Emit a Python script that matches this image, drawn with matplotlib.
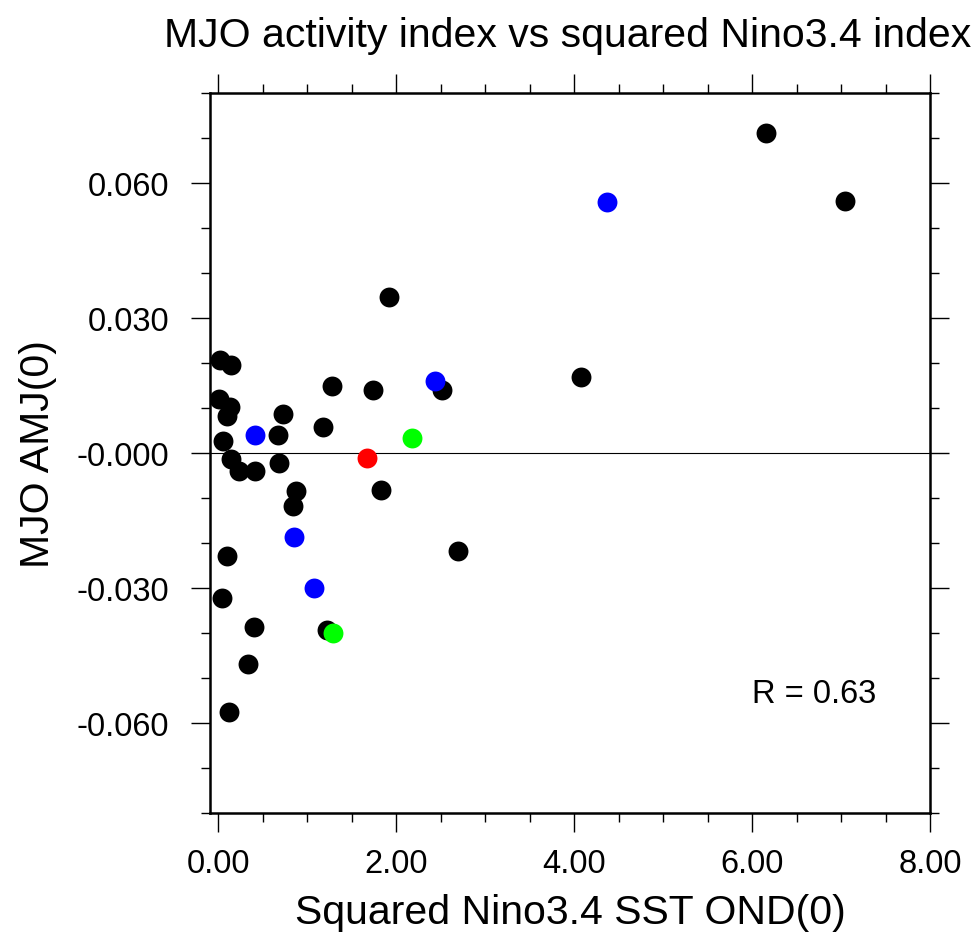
import numpy as np
import matplotlib
matplotlib.use("Agg")
import matplotlib.pyplot as plt
from matplotlib.ticker import MultipleLocator, FormatStrFormatter

plt.rcParams["font.family"] = ["Liberation Sans", "DejaVu Sans"]

# Dados: (quadrado Nino3.4 OND, índice MJO AMJ)
x_black = [0.02, 0.15, 0.015, 0.13, 0.10, 0.06, 0.67, 0.73, 1.28, 1.745, 2.52,
           1.18, 0.146, 0.24, 0.42, 0.68, 0.88, 0.84, 1.83, 2.70, 0.105, 0.05,
           0.40, 1.23, 0.34, 0.127, 6.16, 7.04, 1.92, 4.08]
y_black = [0.0206, 0.0196, 0.0120, 0.0102, 0.0082, 0.0027, 0.0040, 0.0087, 0.0148, 0.0141, 0.0140,
           0.0057, -0.0013, -0.0039, -0.0041, -0.0022, -0.0085, -0.0117, -0.0082, -0.0217, -0.0228, -0.0322,
           -0.0386, -0.0393, -0.0469, -0.0576, 0.0711, 0.0560, 0.0347, 0.0169]
x_blue = [0.42, 2.44, 0.857, 1.08, 4.37]
y_blue = [0.0040, 0.0159, -0.0187, -0.0300, 0.0558]
x_green = [2.18, 1.29]
y_green = [0.0033, -0.0400]
x_red = [1.67]
y_red = [-0.0010]
y_ticks = [-0.06, -0.03, 0.0, 0.03, 0.06]
y_ticklabels = ["-0.060", "-0.030", "-0.000", "0.030", "0.060"]
r_text = "R = 0.63"

fig = plt.figure(figsize=(9.78, 9.45), dpi=100)
ax = fig.add_axes([210 / 978, 1 - 814 / 945, 720 / 978, 720 / 945])

ax.axhline(0, color="black", lw=0.8, zorder=1)
ms = 205
ax.scatter(x_black, y_black, s=ms, c="black", zorder=2, linewidths=0)
ax.scatter(x_blue, y_blue, s=ms, c="#0000ff", zorder=3, linewidths=0)
ax.scatter(x_green, y_green, s=ms, c="#00ff00", zorder=3, linewidths=0)
ax.scatter(x_red, y_red, s=ms, c="#ff0000", zorder=3, linewidths=0)

ax.set_xlim(-0.09, 8.0)
ax.set_ylim(-0.08, 0.08)
ax.xaxis.set_major_locator(MultipleLocator(2.0))
ax.xaxis.set_minor_locator(MultipleLocator(0.5))
ax.yaxis.set_minor_locator(MultipleLocator(0.01))
ax.xaxis.set_major_formatter(FormatStrFormatter("%.2f"))
ax.set_yticks(y_ticks)
ax.set_yticklabels(y_ticklabels)

ax.tick_params(which="both", direction="out", top=True, right=True,
               labelsize=23.5, width=1.0)
ax.tick_params(which="major", length=13.5)
ax.tick_params(axis="x", which="major", pad=12)
ax.tick_params(axis="y", which="major", pad=16)
ax.tick_params(which="minor", length=6.5)
for s in ax.spines.values():
    s.set_linewidth(1.8)

ax.set_xlabel("Squared Nino3.4 SST OND(0)", fontsize=29.5, labelpad=10)
ax.set_ylabel("MJO AMJ(0)", fontsize=29.5, labelpad=14)
ax.set_title("MJO activity index vs squared Nino3.4 index", fontsize=29.5, pad=34, x=0.497)
ax.text(6.7, -0.0535, r_text, fontsize=23.5, ha="center", va="center")

fig.savefig("out.png", dpi=100)
